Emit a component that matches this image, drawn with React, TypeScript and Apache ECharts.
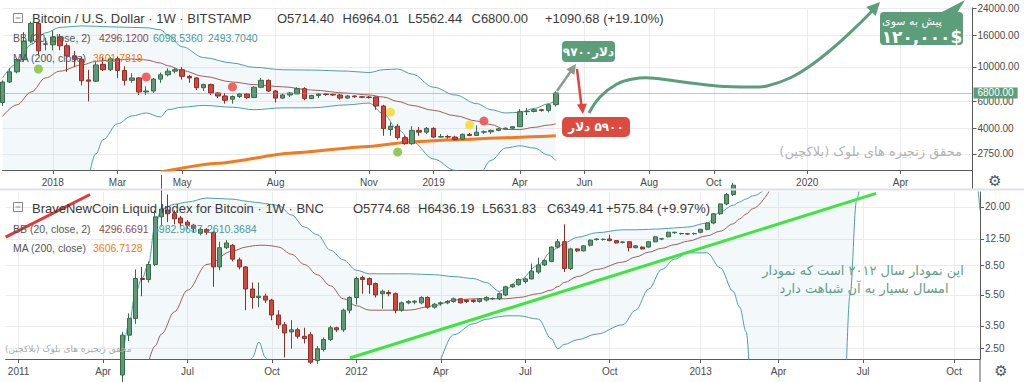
import React, { useEffect, useRef } from 'react';
import * as echarts from 'echarts';

// ---------- axes / categories ----------
const TOP_FIRST_WEEK = '2017-11-13';
const TOP_WEEK_COUNT = 136;
const BOT_FIRST_WEEK = '2010-12-20';
const BOT_WEEK_COUNT = 151;

const topTickLabels: [number, string][] = [
  [7, '2018'], [16, 'Mar'], [25, 'May'], [38, 'Aug'], [51, 'Nov'], [60, '2019'],
  [72, 'Apr'], [81, 'Jun'], [90, 'Aug'], [99, 'Oct'], [112, '2020'], [125, 'Apr'],
];
const botTickLabels: [number, string][] = [
  [2, '2011'], [15, 'Apr'], [28, 'Jul'], [41, 'Oct'], [54, '2012'], [67, 'Apr'],
  [80, 'Jul'], [93, 'Oct'], [107, '2013'], [119, 'Apr'], [132, 'Jul'], [146, 'Oct'],
];
const topPriceTicks = [2750, 4000, 6000, 10000, 16000, 24000];
const botPriceTicks = [2.5, 3.5, 5.5, 8.5, 12.5, 20];

// ---------- top pane: BTC/USD weekly [open, close, low, high] from week 0 ----------
const btcWeekly: number[][] = [
  [5900, 8000, 5600, 8200], [8000, 9300, 7900, 9800], [9300, 11150, 9100, 11400], [11150, 14700, 10800, 16800],
  [14700, 19100, 14200, 19600], [19100, 12700, 11800, 19600], [14000, 14100, 12800, 15400], [13900, 15600, 12800, 17200],
  [15600, 13700, 12800, 16300], [13700, 11800, 9300, 14200], [11800, 11200, 10000, 12700], [11200, 8150, 7600, 11700],
  [8250, 8100, 6000, 9600], [8100, 10300, 8000, 11000], [10400, 9600, 9400, 11700], [9600, 11300, 9400, 11600],
  [11300, 9500, 8500, 11700], [9500, 8200, 7600, 10100], [8200, 8500, 7900, 9100], [8500, 6900, 6600, 8600],
  [6900, 7000, 6600, 7500], [7000, 8350, 6800, 8500], [8350, 8900, 7900, 9200], [8900, 9400, 8700, 9800],
  [9400, 9600, 9100, 9900], [9600, 8700, 8300, 10000], [8700, 8500, 7900, 8900], [8500, 7350, 7100, 8600],
  [7350, 7700, 7000, 7800], [7700, 6800, 6600, 7800], [6800, 6500, 6300, 6900], [6500, 6100, 5800, 6800],
  [6200, 6450, 5800, 6550], [6450, 6700, 6300, 6800], [6700, 6350, 6200, 6800], [6350, 7400, 6300, 7500],
  [7400, 8200, 7300, 8500], [8200, 7000, 6900, 8300], [7000, 6300, 5900, 7100], [6300, 6600, 6200, 6700],
  [6600, 6800, 6400, 6900], [6700, 7250, 6700, 7400], [7250, 6250, 6100, 7400], [6250, 6550, 6200, 6600],
  [6550, 6700, 6300, 6800], [6700, 6650, 6500, 6800], [6650, 6600, 6500, 6750], [6600, 6300, 6150, 6700],
  [6300, 6500, 6250, 6600], [6500, 6420, 6350, 6550], [6420, 6380, 6300, 6500], [6400, 6350, 6250, 6500],
  [6400, 5600, 5300, 6450], [5600, 4000, 3600, 5700], [3950, 4150, 3600, 4400], [4150, 3500, 3400, 4300],
  [3500, 3200, 3150, 3600], [3200, 3900, 3150, 4150], [3900, 3800, 3600, 4100], [3800, 4020, 3700, 4100],
  [4020, 3530, 3500, 4080], [3530, 3560, 3500, 3700], [3560, 3530, 3450, 3650], [3530, 3400, 3350, 3600],
  [3420, 3680, 3380, 3720], [3680, 3620, 3580, 3750], [3620, 3800, 3600, 4200], [3800, 3820, 3700, 3900],
  [3820, 3900, 3700, 3950], [3900, 3990, 3850, 4050], [3990, 4030, 3950, 4080], [4030, 4120, 3950, 4150],
  [4120, 5150, 4100, 5350], [5150, 5170, 4900, 5450], [5170, 5300, 5100, 5400], [5300, 5250, 5150, 5350],
  [5250, 5700, 5100, 5800], [5714.4, 6800.0, 5562.44, 6964.01],
];
const topBandWeeks = [0, 2, 4, 6, 8, 11, 13, 14, 16, 18, 20, 22, 23, 25, 28, 32, 35, 39, 43, 48, 51, 53, 55, 57, 60, 63, 66, 68, 70, 72, 74, 76, 77];
const topUpper = [8500, 10500, 14000, 16600, 18000, 18400, 18300, 18200, 18100, 18000, 17900, 17400, 16000, 13500, 11500, 10600, 9950, 9600, 9550, 9400, 9200, 9600, 9700, 9000, 7400, 6600, 5800, 5300, 5050, 5100, 5400, 5800, 6100];
const topMiddle = [4800, 5700, 6900, 8500, 9400, 10300, 10850, 11000, 11100, 11250, 11100, 10600, 10200, 9500, 8700, 8000, 7700, 7450, 7100, 6780, 6600, 6400, 6000, 5650, 5250, 4850, 4480, 4250, 3950, 3950, 4080, 4220, 4296];
const topLower = [1200, 1000, 900, 900, 1000, 1300, 2750, 3400, 4300, 4830, 5050, 4750, 5300, 5500, 5650, 5500, 5300, 5450, 5450, 5700, 5850, 5000, 3950, 3300, 2550, 2150, 1900, 2500, 3000, 3100, 3000, 2700, 2494];
const topMaWeeks = [22, 30, 40, 51, 57, 63, 70, 77];
const topMa = [2100, 2390, 2780, 3070, 3300, 3400, 3500, 3602];
const greenDots = [[5, 9700], [55, 2830]];
const redDots = [[20, 8620], [32, 7430], [67, 4480]];
const yellowDots = [[54, 5120], [65, 4225]];

// ---------- bottom pane: BNC index weekly, first candle at week 18 ----------
const bncFirstWeek = 18;
const bncWeekly: number[][] = [
  [1.7, 3.05, 1.5, 3.2], [3.05, 3.9, 2.8, 4.2], [3.9, 7.0, 3.6, 8.0], [7.0, 6.9, 5.4, 8.3],
  [6.9, 8.6, 6.6, 9.0], [8.6, 17.3, 8.4, 19.0], [17.3, 19.4, 15.0, 32.0], [19.1, 18.1, 16.0, 24.0],
  [18.1, 16.8, 15.5, 19.0], [17.0, 15.8, 15.0, 17.5], [16.0, 15.3, 14.5, 16.5], [15.3, 14.6, 13.8, 15.6],
  [13.6, 14.4, 13.2, 14.8], [14.4, 13.8, 13.3, 14.6], [13.8, 8.3, 6.2, 14.0], [8.3, 11.0, 7.9, 12.0],
  [11.0, 11.8, 10.8, 12.3], [11.4, 9.3, 9.0, 11.6], [9.2, 8.3, 8.0, 9.5], [8.3, 6.0, 4.4, 8.4],
  [6.0, 5.3, 4.5, 6.6], [5.3, 5.4, 4.6, 6.6], [5.4, 5.1, 4.9, 5.6], [5.1, 4.1, 3.8, 5.2],
  [4.1, 3.55, 3.35, 4.4], [3.55, 3.15, 2.2, 3.7], [3.2, 3.3, 2.5, 3.8], [3.3, 3.0, 2.9, 3.4],
  [3.0, 2.9, 2.7, 3.4], [3.07, 2.05, 2.0, 3.2], [2.1, 2.5, 2.0, 2.6], [2.47, 2.86, 2.4, 2.95],
  [2.86, 3.4, 2.8, 3.5], [3.4, 3.3, 3.2, 3.45], [3.3, 4.4, 3.2, 4.5], [4.4, 5.3, 4.2, 5.4],
  [5.3, 7.0, 4.8, 7.2], [7.1, 6.9, 5.6, 7.3], [7.0, 6.4, 5.6, 7.1], [6.5, 5.5, 5.3, 6.6],
  [5.6, 5.8, 4.5, 5.95], [5.7, 5.6, 5.4, 5.9], [5.6, 4.4, 4.2, 5.7], [4.4, 4.9, 4.3, 5.0],
  [4.9, 5.0, 4.8, 5.1], [4.95, 5.02, 4.8, 5.1], [4.9, 5.3, 4.8, 5.4], [5.3, 4.6, 4.5, 5.4],
  [4.6, 4.8, 4.5, 4.9], [4.85, 4.9, 4.7, 5.0], [4.9, 5.0, 4.8, 5.1], [5.0, 5.2, 4.9, 5.3],
  [5.2, 4.9, 4.85, 5.25], [5.1, 5.0, 4.9, 5.15], [5.1, 5.0, 4.9, 5.15], [5.0, 5.2, 4.9, 5.25],
  [5.1, 5.3, 5.0, 5.4], [5.2, 5.22, 5.1, 5.3], [5.2, 5.6, 5.1, 5.7], [5.5, 6.2, 5.4, 6.3],
  [6.2, 6.4, 6.1, 6.5], [6.4, 6.9, 6.3, 7.0], [6.7, 6.96, 6.5, 7.1], [6.96, 7.8, 6.9, 8.7],
  [7.7, 8.55, 7.5, 9.5], [8.55, 9.1, 8.4, 9.3], [9.0, 11.1, 8.9, 11.2], [11.1, 12.0, 10.9, 12.5],
  [12.0, 8.1, 7.7, 15.5], [8.1, 10.8, 7.9, 11.0], [10.8, 10.5, 10.3, 10.9], [10.5, 11.3, 10.4, 11.4],
  [11.4, 12.3, 11.2, 12.4], [12.4, 12.5, 12.2, 12.6], [12.4, 12.45, 12.2, 12.6], [12.5, 12.2, 12.1, 13.3],
  [12.2, 11.8, 11.7, 12.3], [11.9, 11.95, 11.7, 12.1], [12.0, 11.0, 10.4, 12.1], [11.0, 11.3, 10.9, 11.4],
  [11.1, 10.8, 10.7, 11.2], [11.1, 12.0, 11.0, 12.1], [12.0, 12.9, 11.9, 13.0], [12.5, 12.55, 12.3, 12.7],
  [12.9, 13.8, 12.8, 13.9], [13.7, 13.8, 13.5, 13.9], [13.5, 13.55, 13.3, 13.7], [13.5, 13.45, 13.3, 13.6],
  [13.5, 13.55, 13.3, 13.7], [13.8, 14.4, 13.6, 14.5], [14.4, 15.8, 14.2, 15.9], [15.8, 18.1, 15.5, 18.3],
  [18.1, 20.9, 17.8, 21.0], [20.9, 24.0, 20.5, 24.5], [24.0, 27.5, 23.5, 28.5], [27.5, 31.0, 27.0, 32.0],
];
const botBandWeeks = [18, 19, 20, 21, 22, 23, 24, 26, 28, 31, 35, 37, 38, 39, 40, 41, 42, 44, 46, 48, 50, 52, 54, 56, 59, 62, 66, 69, 72, 74, 76, 77, 79, 82, 84, 85, 86, 88, 91, 95, 97, 99, 101, 103, 105, 108, 110, 112, 113, 114, 115, 118, 122, 129, 130, 131, 132, 140, 149, 150];
const botUpper = [2.2, 3.6, 5.7, 7.0, 8.7, 15.3, 19.4, 20.8, 21.5, 22.8, 22.4, 21.8, 21.5, 21.3, 21.0, 20.7, 20.4, 17.8, 14.9, 13.3, 10.6, 9.2, 7.9, 7.5, 7.5, 7.5, 7.4, 7.2, 7.0, 6.6, 5.8, 6.0, 6.8, 8.5, 10.4, 11.0, 11.8, 12.8, 13.7, 14.3, 14.3, 14.4, 14.5, 14.7, 14.9, 15.8, 18.6, 20.5, 21.5, 22.5, 23.5, 27, 45, 80, 80, 80, 80, 80, 80, 80];
const botLower = [1, 1, 1, 1, 1, 1, 1, 1, 1, 1, 1, 1.6, 2.2, 2.75, 2.2, 1.6, 1, 1, 1, 1, 1, 1, 1, 1, 1, 1, 1.9, 3.07, 3.6, 3.85, 4.0, 4.05, 4.05, 3.86, 2.9, 2.5, 2.66, 2.85, 3.1, 3.55, 4.4, 6.0, 8.0, 9.3, 10.2, 10.2, 8.2, 5.8, 4.6, 3.2, 1, 1, 1, 1, 5.5, 22, 35, 45, 40, 19];
const botMiddle: (number | null)[] = [null, null, null, null, 2.05, 2.6, 3.1, 4.3, 5.9, 8.6, 10.5, 11.1, 11.3, 11.4, 11.4, 11.3, 11.1, 10.0, 8.6, 7.4, 6.3, 5.2, 4.7, 4.4, 4.4, 4.4, 4.7, 5.1, 5.2, 5.2, 5.2, 5.2, 5.3, 5.6, 5.9, 6.2, 6.6, 7.2, 8.0, 8.9, 9.6, 10.3, 10.9, 11.5, 12.1, 13.1, 14.0, 15.6, 16.8, 18.0, 19.5, 27, null, null, null, null, null, null, null, null];
const greenTrend = [[53, 2.18], [134, 24.4]];
const redTrend = [[0, 12.85], [13, 24.0]];

// ---------- styling ----------
const FONT = '"Liberation Sans", Arial, sans-serif';
const FA = '"DejaVu Sans", sans-serif';
const UP = '#5c9b71';
const UP_B = '#3b6a4b';
const DOWN = '#d2463c';
const DOWN_B = '#8c2f28';
const BB = '#4f9ea2';
const BB_MID = '#a05c5c';
const BAND_FILL = 'rgba(80,170,190,0.10)';
const CALLOUT = '#5c9d7a';
const GRID = '#ececee';
const RLM = '\u200F';

function weekCategories(first: string, count: number): string[] {
  const t0 = Date.parse(first + 'T00:00:00Z');
  const out: string[] = [];
  for (let i = 0; i < count; i++) out.push(new Date(t0 + i * 604800000).toISOString().slice(0, 10));
  return out;
}

function mkX(gridIndex: number, cats: string[], labels: [number, string][]) {
  const map = new Map(labels);
  const pick = (i: number) => map.has(i);
  return {
    type: 'category', gridIndex, data: cats, boundaryGap: false,
    axisLine: { show: true, lineStyle: { color: '#5a5a5a', width: 1 } },
    axisTick: { show: true, interval: (i: number) => pick(i), length: 4, lineStyle: { color: '#5a5a5a' } },
    axisLabel: {
      show: true, interval: (i: number) => pick(i), formatter: (_v: string, i: number) => map.get(i) ?? '',
      color: '#4a4a4a', fontSize: 10, fontFamily: FONT, margin: 7,
    },
    splitLine: { show: true, interval: (i: number) => pick(i), lineStyle: { color: GRID } },
  };
}

function mkY(gridIndex: number, min: number, max: number, ticks: number[]) {
  return {
    type: 'log', logBase: 10, gridIndex, position: 'right', min, max,
    axisLine: { show: true, lineStyle: { color: '#5a5a5a' } },
    axisTick: { show: true, customValues: ticks, length: 4, lineStyle: { color: '#5a5a5a' } },
    axisLabel: {
      show: true, customValues: ticks, formatter: (v: number) => Number(v).toFixed(2),
      color: '#4a4a4a', fontSize: 10, fontFamily: FONT, margin: 5,
    },
    splitLine: { show: true, lineStyle: { color: GRID } },
    minorTick: { show: false }, minorSplitLine: { show: false },
  };
}

function bandSeries(xi: number, weeks: number[], upper: number[], lower: number[], stack: string) {
  const common = { type: 'line', xAxisIndex: xi, yAxisIndex: xi, stack, smooth: 0.35, smoothMonotone: 'x', symbol: 'none', silent: true, z: 1 };
  return [
    { ...common, data: weeks.map((w, k) => [w, lower[k]]), lineStyle: { color: BB, width: 1 } },
    { ...common, data: weeks.map((w, k) => [w, upper[k] - lower[k]]), lineStyle: { color: BB, width: 1 }, areaStyle: { color: BAND_FILL } },
  ];
}

function lineSeries(xi: number, pts: (number | null)[][], color: string, width: number, z: number, smooth = 0.35) {
  return { type: 'line', xAxisIndex: xi, yAxisIndex: xi, data: pts, smooth, smoothMonotone: 'x', symbol: 'none', silent: true, z, lineStyle: { color, width } };
}

function txt(text: string, x: number, y: number, fill: string, font: string, align = 'left') {
  return { type: 'text', x, y, z: 100, silent: true, style: { text, fill, font, align, verticalAlign: 'middle' } };
}

function buildOption() {
  const topCats = weekCategories(TOP_FIRST_WEEK, TOP_WEEK_COUNT);
  const botCats = weekCategories(BOT_FIRST_WEEK, BOT_WEEK_COUNT);
  const candleStyle = { color: UP, color0: DOWN, borderColor: UP_B, borderColor0: DOWN_B, borderWidth: 1 };
  const botData: any[] = [];
  for (let i = 0; i < bncFirstWeek; i++) botData.push('-');
  bncWeekly.forEach((c) => botData.push(c));
  const midPts = botBandWeeks.map((w, k) => [w, botMiddle[k]]).filter((p) => p[1] != null);
  const dots = (data: number[][], color: string) => ({
    type: 'scatter', xAxisIndex: 0, yAxisIndex: 0, data, symbolSize: 9, z: 6, silent: true, itemStyle: { color, opacity: 0.9 },
  });

  const g: any[] = [];
  g.push({ type: 'rect', z: 90, silent: true, shape: { x: 0, y: 188.5, width: 1024, height: 2 }, style: { fill: '#dfe1e5' } });
  g.push({ type: 'line', z: 90, silent: true, shape: { x1: 972.5, y1: 170, x2: 972.5, y2: 188.5 }, style: { stroke: '#5a5a5a', lineWidth: 1 } });
  g.push({ type: 'line', z: 90, silent: true, shape: { x1: 980, y1: 359, x2: 980, y2: 382 }, style: { stroke: '#5a5a5a', lineWidth: 1 } });
  g.push(txt('\u2699', 995, 181, '#555', '15px ' + FA, 'center'));
  g.push(txt('\u2699', 1001, 371, '#555', '15px ' + FA, 'center'));
  [13.5, 202.5].forEach((y) => {
    g.push({ type: 'rect', z: 100, silent: true, shape: { x: 13.5, y, width: 9, height: 9 }, style: { fill: 'none', stroke: '#888', lineWidth: 1 } });
    g.push({ type: 'line', z: 100, silent: true, shape: { x1: 15.5, y1: y + 4.5, x2: 20.5, y2: y + 4.5 }, style: { stroke: '#888', lineWidth: 1 } });
  });
  // top header
  g.push(txt('Bitcoin / U.S. Dollar · 1W · BITSTAMP', 32, 18, '#3a3a3a', '13px ' + FONT));
  g.push(txt('O5714.40', 277, 18, '#3a3a3a', '13px ' + FONT));
  g.push(txt('H6964.01', 342.5, 18, '#3a3a3a', '13px ' + FONT));
  g.push(txt('L5562.44', 408, 18, '#3a3a3a', '13px ' + FONT));
  g.push(txt('C6800.00', 471.5, 18, '#3a3a3a', '13px ' + FONT));
  g.push(txt('+1090.68 (+19.10%)', 545, 18, '#3a3a3a', '13px ' + FONT));
  g.push(txt('BB (20, close, 2)', 13, 38, '#555', '10.5px ' + FONT));
  g.push(txt('4296.1200', 99, 38, '#8e4a4a', '10.5px ' + FONT));
  g.push(txt('6098.5360', 153, 38, '#4a9898', '10.5px ' + FONT));
  g.push(txt('2493.7040', 208, 38, '#4a9898', '10.5px ' + FONT));
  g.push(txt('MA (200, close)', 13, 58, '#555', '10.5px ' + FONT));
  g.push(txt('3601.7819', 93, 58, '#f57c00', '10.5px ' + FONT));
  // bottom header
  g.push(txt('BraveNewCoin Liquid Index for Bitcoin · 1W · BNC', 32, 208, '#3a3a3a', '13px ' + FONT));
  g.push(txt('O5774.68', 353, 208, '#3a3a3a', '13px ' + FONT));
  g.push(txt('H6436.19', 418, 208, '#3a3a3a', '13px ' + FONT));
  g.push(txt('L5631.83', 482, 208, '#3a3a3a', '13px ' + FONT));
  g.push(txt('C6349.41', 547, 208, '#3a3a3a', '13px ' + FONT));
  g.push(txt('+575.84 (+9.97%)', 606, 208, '#3a3a3a', '13px ' + FONT));
  g.push(txt('BB (20, close, 2)', 13, 229, '#555', '10.5px ' + FONT));
  g.push(txt('4296.6691', 99, 229, '#8e4a4a', '10.5px ' + FONT));
  g.push(txt('5982.9687', 153, 229, '#4a9898', '10.5px ' + FONT));
  g.push(txt('2610.3684', 207, 229, '#4a9898', '10.5px ' + FONT));
  g.push(txt('MA (200, close)', 13, 248, '#555', '10.5px ' + FONT));
  g.push(txt('3606.7128', 93, 248, '#f57c00', '10.5px ' + FONT));
  // watermarks / notes
  g.push(txt(RLM + 'محقق زنجیره های بلوک (بلاکچین)' + RLM, 962, 151, '#b3b3b3', '13px ' + FA, 'right'));
  g.push(txt(RLM + 'محقق زنجیره های بلوک (بلاکچین)' + RLM, 5, 349, '#ababab', '9px ' + FA));
  g.push(txt(RLM + 'این نمودار سال ۲۰۱۲ است که نمودار' + RLM, 863, 270, '#5f9e87', '13px ' + FA, 'center'));
  g.push(txt(RLM + 'امسال بسیار به آن شباهت دارد' + RLM, 864, 288, '#5f9e87', '13px ' + FA, 'center'));
  // callout 9700
  g.push({ type: 'line', z: 100, silent: true, shape: { x1: 557, y1: 91, x2: 571, y2: 71 }, style: { stroke: '#8a9c92', lineWidth: 2.5 } });
  g.push({ type: 'polygon', z: 100, silent: true, shape: { points: [[576, 64], [574.4, 75.1], [566.2, 69.3]] }, style: { fill: '#8a9c92' } });
  g.push({ type: 'rect', z: 100, silent: true, shape: { x: 562, y: 41, width: 53, height: 21, r: 4 }, style: { fill: CALLOUT } });
  g.push(txt('۹۷۰۰دلار', 588.5, 51.5, '#fff', 'bold 12px ' + FA, 'center'));
  // callout 5900
  g.push({ type: 'line', z: 100, silent: true, shape: { x1: 577, y1: 69, x2: 581.5, y2: 106 }, style: { stroke: '#e0463c', lineWidth: 2.5 } });
  g.push({ type: 'polygon', z: 100, silent: true, shape: { points: [[583, 114], [586.9, 103.6], [576.9, 104.6]] }, style: { fill: '#e0463c' } });
  g.push({ type: 'rect', z: 100, silent: true, shape: { x: 562, y: 117, width: 68, height: 20, r: 5 }, style: { fill: '#de4b3e' } });
  g.push(txt(RLM + '۵۹۰۰ دلار' + RLM, 596, 127, '#fff', 'bold 12px ' + FA, 'center'));
  // big projected path
  g.push({
    type: 'polyline', z: 100, silent: true,
    shape: { points: [[589, 113], [600, 97], [617, 84], [633, 79], [650, 78], [683, 82], [717, 86], [750, 87], [767, 86], [790, 78], [810, 66], [833, 48], [857, 26], [873, 10]], smooth: 0.4 },
    style: { stroke: CALLOUT, lineWidth: 3, fill: 'none' },
  });
  g.push({ type: 'polygon', z: 100, silent: true, shape: { points: [[880, 2], [875.7, 15.9], [866.3, 6.9]] }, style: { fill: CALLOUT } });
  // callout 120,000$
  g.push({ type: 'polygon', z: 100, silent: true, shape: { points: [[940, 13], [957, 13], [965, 0]] }, style: { fill: CALLOUT } });
  g.push({ type: 'rect', z: 100, silent: true, shape: { x: 880, y: 12, width: 83, height: 33, r: 4 }, style: { fill: CALLOUT } });
  g.push(txt('پیش به سوی', 912, 21.5, '#fff', '11px ' + FA, 'center'));
  g.push(txt('۱۲۰,۰۰۰$', 922, 36.5, '#fff', 'bold 17px ' + FA, 'center'));

  return {
    animation: false,
    backgroundColor: '#ffffff',
    grid: [
      { left: 2.5, width: 970, top: 8, height: 162 },
      { left: 5.6, width: 974.4, top: 192, height: 167 },
    ],
    xAxis: [mkX(0, topCats, topTickLabels), mkX(1, botCats, botTickLabels)],
    yAxis: [mkY(0, 2166, 24000, topPriceTicks), mkY(1, 2.15, 24.9, botPriceTicks)],
    series: [
      ...bandSeries(0, topBandWeeks, topUpper, topLower, 'topBand'),
      lineSeries(0, topBandWeeks.map((w, k) => [w, topMiddle[k]]), BB_MID, 1, 2),
      lineSeries(0, topMaWeeks.map((w, k) => [w, topMa[k]]), '#f4791f', 3, 3, 0.2),
      {
        type: 'candlestick', xAxisIndex: 0, yAxisIndex: 0, data: btcWeekly, barWidth: 5, z: 4, silent: true,
        itemStyle: candleStyle,
        markLine: {
          symbol: 'none', silent: true, data: [{ yAxis: 6800 }],
          lineStyle: { type: 'dotted', color: '#6f9f86', width: 1 },
          label: { position: 'end', formatter: '6800.00', backgroundColor: CALLOUT, color: '#fff', padding: [1, 4, 0, 4], fontSize: 10, fontFamily: FONT, distance: 1 },
        },
      },
      dots(greenDots, '#8bc34a'),
      dots(redDots, '#ef5350'),
      dots(yellowDots, '#fdd835'),
      ...bandSeries(1, botBandWeeks, botUpper, botLower, 'botBand'),
      lineSeries(1, midPts, BB_MID, 1, 2),
      { type: 'candlestick', xAxisIndex: 1, yAxisIndex: 1, data: botData, barWidth: 4.5, z: 4, silent: true, itemStyle: candleStyle },
      lineSeries(1, greenTrend, '#3fe43f', 3, 6, 0),
      lineSeries(1, redTrend, '#e53935', 3, 6, 0),
    ],
    graphic: { elements: g },
  };
}

export default function App() {
  const ref = useRef<HTMLDivElement>(null);
  useEffect(() => {
    if (!ref.current) return;
    const chart = echarts.init(ref.current, undefined, { renderer: 'svg' });
    chart.setOption(buildOption() as any);
    return () => chart.dispose();
  }, []);
  return <div ref={ref} style={{ width: 1024, height: 382, position: 'absolute', left: 0, top: 0 }} />;
}
